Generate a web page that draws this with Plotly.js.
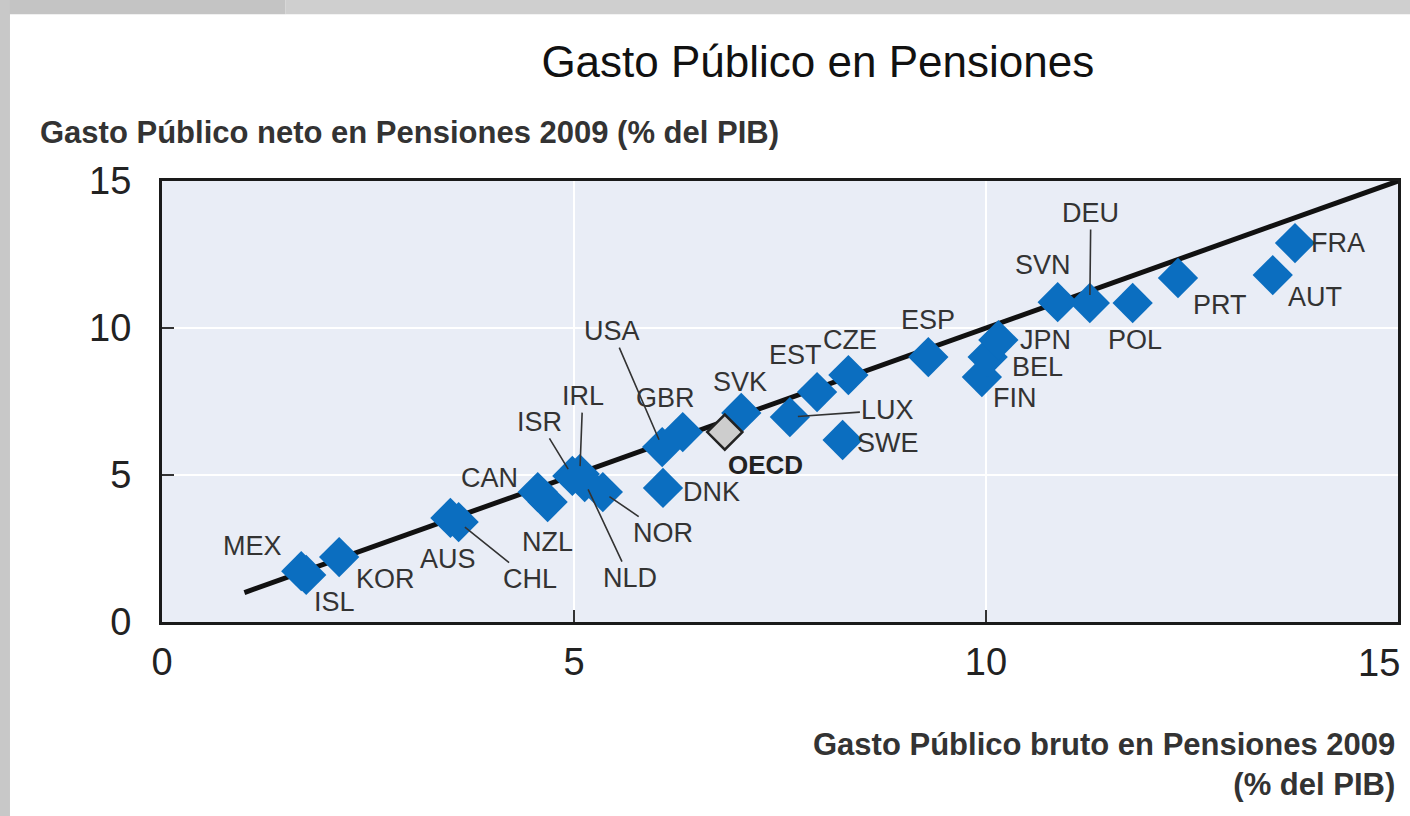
<!DOCTYPE html>
<html>
<head>
<meta charset="utf-8">
<script src="https://cdn.plot.ly/plotly-3.0.1.min.js"></script>
<style>
  html, body { margin: 0; padding: 0; background: #ffffff; }
  #chart { width: 1410px; height: 816px; }
</style>
</head>
<body>
<div id="chart"></div>
<script>
// ---- data ----
const countries = ["MEX","ISL","KOR","AUS","CHL","CAN","NZL","ISR","IRL","NLD","NOR",
                   "USA","GBR","DNK","SVK","LUX","EST","CZE","SWE","ESP","FIN","BEL","JPN",
                   "SVN","DEU","POL","PRT","AUT","FRA"];
const grossSpending = [1.69,1.75,2.15,3.50,3.60,4.56,4.68,4.98,5.07,5.13,5.35,
                       6.07,6.32,6.08,7.03,7.62,7.95,8.33,8.26,9.30,9.95,10.02,10.15,
                       10.87,11.26,11.78,12.33,13.48,13.75];
const netSpending   = [1.73,1.60,2.21,3.54,3.40,4.42,4.08,4.97,5.03,4.76,4.42,
                       5.95,6.46,4.56,7.11,6.97,7.82,8.40,6.19,9.01,8.33,9.01,9.59,
                       10.88,10.85,10.85,11.70,11.80,12.89];
const oecdLabel = ["OECD"];
const oecdGross = [6.83];
const oecdNet   = [6.46];
const diagonalX = [1, 15];
const diagonalY = [1, 15];
const tickVals  = [0, 5, 10, 15];
const tickText  = ["0", "5", "10", "15"];

// ---- label placement (pixel offsets from each point; leader = draw a line) ----
const labelOffsets = {
  MEX:[-49,-25,false], ISL:[28,27,false], KOR:[46,22,false], AUS:[-2,41,false],
  CHL:[71,57,true], CAN:[-48,-14,false], NZL:[0,40,false], ISR:[-33,-54,true],
  IRL:[3,-78,true], NLD:[45,96,true], NOR:[60,41,true], USA:[-50,-116,true],
  GBR:[-17,-34,false], DNK:[49,4,false], SVK:[-1,-31,false], LUX:[98,-7,true],
  EST:[-22,-37,false], CZE:[2,-35,false], SWE:[45,3,false], ESP:[0,-37,false],
  FIN:[33,21,false], BEL:[50,10,false], JPN:[47,0,false], SVN:[-15,-37,false],
  DEU:[1,-90,true], POL:[2,37,false], PRT:[42,27,false], AUT:[42,22,false],
  FRA:[43,0,false]
};

const FONT = "Liberation Sans, Arial, sans-serif";
const labelFont = {family: FONT, size: 27, color: "#333333"};
const annotations = [];
countries.forEach((c, i) => {
  const o = labelOffsets[c];
  if (o[2]) {
    annotations.push({x: grossSpending[i], y: netSpending[i], xref: "x", yref: "y",
      text: c, showarrow: true, arrowhead: 0, arrowwidth: 1.6, arrowcolor: "#333333",
      ax: o[0], ay: o[1], standoff: 8, font: labelFont});
  } else {
    annotations.push({x: grossSpending[i], y: netSpending[i], xref: "x", yref: "y",
      text: c, showarrow: false, xshift: o[0], yshift: -o[1], font: labelFont});
  }
});
annotations.push({x: oecdGross[0], y: oecdNet[0], xref: "x", yref: "y",
  text: "<b>" + oecdLabel[0] + "</b>", showarrow: false, xshift: 41, yshift: -33,
  font: {family: FONT, size: 26, color: "#222222"}});

// last x tick label, kept inside the page as in the reference
annotations.push({x: tickVals[3], xref: "x", yref: "paper", y: -0.093,
  xanchor: "right", yanchor: "middle", xshift: 4, showarrow: false,
  text: tickText[3], font: {family: FONT, size: 38, color: "#222222"}});

// axis titles as text blocks
annotations.push({xref: "paper", yref: "paper", x: -0.1003, y: 1.109,
  xanchor: "left", yanchor: "middle", showarrow: false,
  text: "<b>Gasto Público neto en Pensiones 2009 (% del PIB)</b>",
  font: {family: FONT, size: 31, color: "#333333"}});
annotations.push({xref: "paper", yref: "paper", x: 0.9992, y: -0.323,
  xanchor: "right", yanchor: "middle", align: "right", showarrow: false,
  text: "<b>Gasto Público bruto en Pensiones 2009<br>(% del PIB)</b>",
  font: {family: FONT, size: 31, color: "#333333"}});

const traces = [
  {x: diagonalX, y: diagonalY, mode: "lines", type: "scatter",
   line: {color: "#111111", width: 5}, hoverinfo: "skip", showlegend: false},
  {x: grossSpending, y: netSpending, text: countries, mode: "markers", type: "scatter",
   marker: {symbol: "diamond", size: 31, color: "#0b6ec0", line: {width: 0}},
   showlegend: false},
  {x: oecdGross, y: oecdNet, text: oecdLabel, mode: "markers", type: "scatter",
   marker: {symbol: "diamond", size: 27, color: "#cdcdcd", line: {width: 2.5, color: "#222222"}},
   showlegend: false}
];

const axisCommon = {
  range: [0, 15],
  showgrid: true, gridcolor: "#ffffff", gridwidth: 2,
  zeroline: false, showline: true, mirror: true, linecolor: "#1a1a1a", linewidth: 3,
  ticks: "inside", ticklen: 12, tickwidth: 1.5, tickcolor: "#333333",
  tickfont: {family: FONT, size: 38, color: "#222222"},
  fixedrange: true
};

const layout = {
  width: 1410, height: 816,
  margin: {l: 162, r: 12, t: 181, b: 194},
  paper_bgcolor: "#ffffff", plot_bgcolor: "#e9edf6",
  title: {text: "Gasto Público en Pensiones", x: 0.58, xanchor: "center",
          y: 0.924, yanchor: "middle",
          font: {family: FONT, size: 44, color: "#111111"}},
  xaxis: Object.assign({}, axisCommon, {tickvals: tickVals.slice(0, 3), ticktext: tickText.slice(0, 3),
                                        ticklabelstandoff: 4}),
  yaxis: Object.assign({}, axisCommon, {tickvals: tickVals, ticktext: tickText,
                                        ticklabelstandoff: 20}),
  annotations: annotations,
  shapes: [
    {type: "rect", xref: "paper", yref: "paper", x0: -0.14, x1: 0.1, y0: 1.378, y1: 1.42,
     fillcolor: "#c4c4c4", line: {width: 0}, layer: "below"},
    {type: "rect", xref: "paper", yref: "paper", x0: 0.1, x1: 1.02, y0: 1.378, y1: 1.42,
     fillcolor: "#cfcfcf", line: {width: 0}, layer: "below"},
    {type: "rect", xref: "paper", yref: "paper", x0: -0.14, x1: -0.123, y0: -0.5, y1: 1.42,
     fillcolor: "#c8c8c8", line: {width: 0}, layer: "below"}
  ]
};

Plotly.newPlot("chart", traces, layout, {displayModeBar: false, staticPlot: true});
</script>
</body>
</html>
